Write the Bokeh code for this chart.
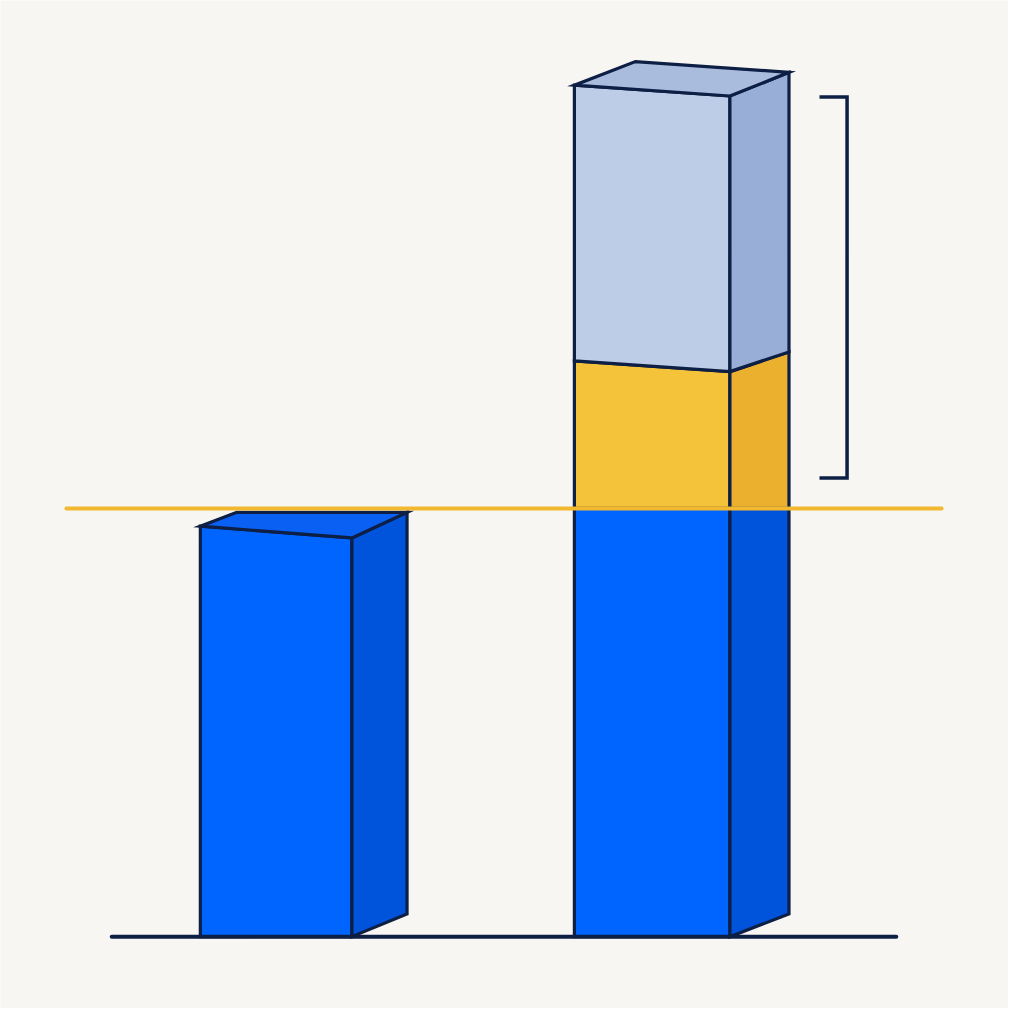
from bokeh.plotting import figure
from bokeh.models import Range1d
from bokeh.embed import file_html
from bokeh.resources import INLINE

# ---- data (values in chart units; baseline = 0) ----
bar_names = ["left", "right"]
left_bar_value = [4.17]
right_stack_names = ["base", "added", "extra"]
right_stack_values = [4.35, 1.50, 2.80]
reference_line = [4.35]
bracket_span = [4.66, 8.53]

# ---- styles ----
BG = "#F7F6F2"
NAVY = "#0D1F44"
BLUE_F, BLUE_S, BLUE_T = "#0064FF", "#0053DB", "#0A60F3"
YEL_F, YEL_S = "#F5C33A", "#ECB02F"
LB_F, LB_S, LB_T = "#BDCCE7", "#98AED6", "#A9BCDE"
front_cols = [BLUE_F, YEL_F, LB_F]
side_cols = [BLUE_S, YEL_S, LB_S]

p = figure(width=1008, height=1008, output_backend="svg", toolbar_location=None,
           x_range=Range1d(0, 1024), y_range=Range1d(-0.73, 9.51),
           min_border=0, background_fill_color=BG, border_fill_color=BG,
           outline_line_color=None)
p.axis.visible = False
p.grid.visible = False

OUT = dict(line_color=NAVY, line_width=3.2, line_join="miter")

# geometry (positions)
tilt = 0.11      # front top edge drop
rise = 0.23      # side face rise

# --- left bar ---
x0, w, d = 203, 154, 56
v = left_bar_value[0]
p.patch([x0, x0 + w, x0 + w, x0], [0, 0, v - tilt - 0.01, v], fill_color=BLUE_F, **OUT)
p.patch([x0 + w, x0 + w + d, x0 + w + d, x0 + w], [0, rise, v - tilt + 0.25, v - tilt - 0.01],
        fill_color=BLUE_S, **OUT)
p.patch([x0, x0 + w, x0 + w + d, x0 + 37], [v, v - tilt - 0.01, v - tilt + 0.25, v - tilt + 0.25],
        fill_color=BLUE_T, **OUT)

# --- right stacked bar ---
x0, w, d = 583, 158, 60
cum = 0.0
for i, val in enumerate(right_stack_values):
    lo, hi = cum, cum + val
    lo_t = 0.0 if i <= 1 else tilt
    hi_t = 0.0 if i == 0 else tilt
    lo_r = rise if i == 0 else (0.0 if i == 1 else 0.20)
    hi_r = 0.0 if i == 0 else (0.20 if i == 1 else 0.24)
    p.patch([x0, x0 + w, x0 + w, x0], [lo, lo - lo_t, hi - hi_t, hi],
            fill_color=front_cols[i], **OUT)
    p.patch([x0 + w, x0 + w + d, x0 + w + d, x0 + w],
            [lo - lo_t, lo - lo_t + lo_r, hi - hi_t + hi_r, hi - hi_t],
            fill_color=side_cols[i], **OUT)
    cum = hi
top = cum
p.patch([x0, x0 + w, x0 + w + d, x0 + d + 2],
        [top, top - tilt, top - tilt + 0.24, top + 0.24],
        fill_color=LB_T, **OUT)

# --- reference line ---
p.line([67, 956], [reference_line[0]] * 2, line_color="#F2B830", line_width=4, line_cap="round")

# --- baseline ---
p.line([113, 910], [0, 0], line_color=NAVY, line_width=4, line_cap="round")

# --- bracket ---
p.line([832, 860, 860, 832], [bracket_span[1], bracket_span[1], bracket_span[0], bracket_span[0]],
       line_color=NAVY, line_width=3.5, line_join="miter")

open("out.html", "w").write(file_html(p, INLINE))
